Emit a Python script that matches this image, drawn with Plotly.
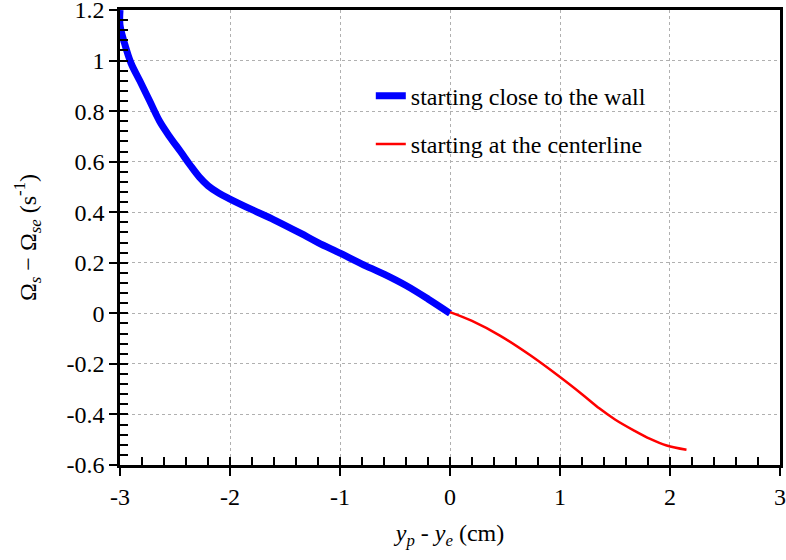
import plotly.graph_objects as go

# Data
wall_x = [-3.0, -3.0, -2.96, -2.9, -2.82, -2.73, -2.64, -2.55, -2.45, -2.36, -2.28, -2.2, -2.1,
          -2.0, -1.8, -1.6, -1.36, -1.2, -1.0, -0.8, -0.6, -0.4, -0.2, 0.0]
wall_y = [1.2, 1.14, 1.07, 0.99, 0.92, 0.84, 0.76, 0.70, 0.64, 0.585, 0.54, 0.505, 0.475,
          0.452, 0.41, 0.37, 0.317, 0.28, 0.238, 0.195, 0.155, 0.11, 0.057, 0.0]
center_x = [0.0, 0.2, 0.45, 0.73, 1.0, 1.2, 1.36, 1.5, 1.67, 1.82, 1.97, 2.15]
center_y = [0.005, -0.03, -0.087, -0.166, -0.252, -0.32, -0.377, -0.42, -0.463, -0.497, -0.523, -0.54]

x_ticks = [-3, -2, -1, 0, 1, 2, 3]
y_ticks = [-0.6, -0.4, -0.2, 0, 0.2, 0.4, 0.6, 0.8, 1, 1.2]
y_labels = ["-0.6", "-0.4", "-0.2", "0", "0.2", "0.4", "0.6", "0.8", "1", "1.2"]
x_minor_step = 0.2
y_minor_step = 0.04

FONT = "Liberation Serif"
TF = dict(family=FONT, size=24, color="black")

fig = go.Figure()
fig.add_trace(go.Scatter(x=wall_x, y=wall_y, mode="lines", line=dict(color="#0000ff", width=7, shape="spline"),
                         name="starting close to the wall", legendgroup="a"))
fig.add_trace(go.Scatter(x=center_x, y=center_y, mode="lines", line=dict(color="#ff0000", width=2.5, shape="spline"),
                         name="starting at the centerline", legendgroup="b"))
# invisible trace so the overlay (inner tick) axes are drawn
fig.add_trace(go.Scatter(x=[-3, 3], y=[-0.6, 1.2], xaxis="x2", yaxis="y2", mode="markers",
                         marker=dict(opacity=0), showlegend=False, hoverinfo="skip"))

fig.update_layout(
    width=786, height=560,
    margin=dict(l=120, r=6, t=10, b=95, autoexpand=False),
    paper_bgcolor="white", plot_bgcolor="white",
    font=TF,
    showlegend=True,
    legend=dict(x=0.38, y=0.86, xanchor="left", yanchor="top", bgcolor="rgba(0,0,0,0)",
                font=TF, tracegroupgap=14, traceorder="grouped"),
    xaxis=dict(range=[-3.0001, 3.0001], tickmode="array", tickvals=x_ticks, ticktext=[str(v) for v in x_ticks],
               tickfont=TF, ticks="outside", ticklen=8, tickwidth=2, tickcolor="black",
               ticklabeloverflow="allow",
               showline=True, linewidth=2.5, linecolor="black", mirror=True,
               showgrid=True, gridcolor="#b0b0b0", griddash="dot", gridwidth=1, zeroline=False,
               title=dict(text="<i>y<sub>p</sub></i> - <i>y<sub>e</sub></i> (cm)", font=TF, standoff=16)),
    yaxis=dict(range=[-0.6001, 1.2001], tickmode="array", tickvals=y_ticks, ticktext=y_labels,
               tickfont=TF, ticks="outside", ticklen=8, tickwidth=2, tickcolor="black",
               ticklabeloverflow="allow",
               showline=True, linewidth=2.5, linecolor="black", mirror=True,
               showgrid=True, gridcolor="#b0b0b0", griddash="dot", gridwidth=1, zeroline=False,
               title=dict(text="&#937;<sub><i>s</i></sub> &#8722; &#937;<sub><i>se</i></sub> (s<sup>-1</sup>)",
                          font=TF, standoff=24)),
    xaxis2=dict(range=[-3.0001, 3.0001], overlaying="x", anchor="y", side="bottom",
                tickmode="linear", tick0=-3, dtick=x_minor_step, showticklabels=False,
                ticks="inside", ticklen=8, tickwidth=1.5, tickcolor="black",
                showgrid=False, zeroline=False, showline=False),
    yaxis2=dict(range=[-0.6001, 1.2001], overlaying="y", anchor="x", side="left",
                tickmode="linear", tick0=-0.6, dtick=y_minor_step, showticklabels=False,
                ticks="inside", ticklen=8, tickwidth=1.5, tickcolor="black",
                showgrid=False, zeroline=False, showline=False),
)

post = """
document.body.style.margin='0';
var gd = document.getElementById('{plot_id}');
gd.querySelectorAll('svg text').forEach(function(t){
  t.style.setProperty('font-family', '"Liberation Serif", "Times New Roman", serif', 'important');
  t.style.setProperty('font-size', '24px', 'important');
});
"""

fig.write_html("out.html", post_script=post, config={"displayModeBar": False})
